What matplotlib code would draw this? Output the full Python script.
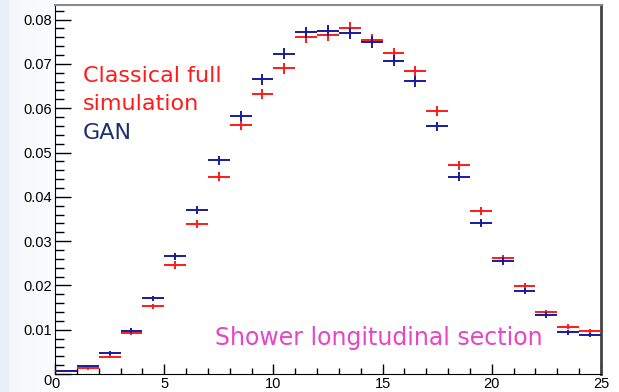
import numpy as np
import matplotlib
matplotlib.use("Agg")
import matplotlib.pyplot as plt
from matplotlib.ticker import MultipleLocator, FuncFormatter

# ---- data ----
bin_edges_lo = list(range(0, 25))
bin_centers = [b + 0.5 for b in bin_edges_lo]

classical = [0.0007, 0.0013, 0.0039, 0.0093, 0.0153, 0.0246, 0.0339, 0.0445,
             0.0562, 0.0632, 0.0690, 0.0761, 0.0765, 0.0782, 0.0755, 0.0725,
             0.0684, 0.0593, 0.0471, 0.0367, 0.0261, 0.0198, 0.0139, 0.0107,
             0.0096]
gan = [0.0006, 0.0018, 0.0048, 0.0098, 0.0171, 0.0266, 0.0370, 0.0482,
       0.0583, 0.0665, 0.0723, 0.0771, 0.0775, 0.0769, 0.0750, 0.0707,
       0.0661, 0.0559, 0.0445, 0.0341, 0.0255, 0.0187, 0.0133, 0.0094,
       0.0088]
errors = [0.0002, 0.0003, 0.0004, 0.0005, 0.0006, 0.0008, 0.0009, 0.0010,
          0.0011, 0.0012, 0.0012, 0.0013, 0.0013, 0.0013, 0.0013, 0.0012,
          0.0012, 0.0011, 0.0010, 0.0009, 0.0008, 0.0007, 0.0006, 0.0005,
          0.0005]

x_ticks = [0, 5, 10, 15, 20, 25]
y_ticks = [0.0, 0.01, 0.02, 0.03, 0.04, 0.05, 0.06, 0.07, 0.08]

fig = plt.figure(figsize=(6.19, 3.92), dpi=100)
fig.patch.set_facecolor("white")

# light slide background on the left
bg = fig.add_axes([0, 0, 1, 1], zorder=-10)
bg.axis("off")
xs = np.linspace(0, 1, 619)
grad = np.ones((1, 619, 3))
left = np.array([0.91, 0.94, 0.965])
mid = np.array([0.96, 0.972, 0.982])
for i, t in enumerate(xs):
    px = t * 619
    if px < 9:
        c = left
    elif px < 60:
        f = (px - 9) / 51
        c = mid * (1 - f) + np.array([0.985, 0.99, 0.995]) * f
    else:
        c = np.array([1.0, 1.0, 1.0])
    grad[0, i] = c
bg.imshow(grad, aspect="auto", extent=[0, 1, 0, 1])
bg.set_xlim(0, 1)
bg.set_ylim(0, 1)

ax = fig.add_axes([55 / 619, 18 / 392, 546 / 619, 369 / 392])
ax.set_facecolor("white")

ax.errorbar(bin_centers, classical, xerr=0.5, yerr=errors, fmt="none",
            ecolor="#ff1a1a", elinewidth=1.4, capsize=0, zorder=3)
ax.errorbar(bin_centers, gan, xerr=0.5, yerr=errors, fmt="none",
            ecolor="#1a1aa0", elinewidth=1.4, capsize=0, zorder=4)

ax.set_xlim(0, 25)
ax.set_ylim(0, 0.0833)
ax.set_xticks(x_ticks)
ax.xaxis.set_minor_locator(MultipleLocator(1))
ax.set_yticks(y_ticks)
ax.yaxis.set_minor_locator(MultipleLocator(0.002))
ax.yaxis.set_major_formatter(FuncFormatter(lambda v, p: "0" if abs(v) < 1e-9 else f"{v:.2f}"))

ax.tick_params(axis="x", which="major", direction="in", length=7.2, width=1,
               labelsize=10.5, pad=2.5)
ax.tick_params(axis="x", which="minor", direction="in", length=4, width=1)
ax.tick_params(axis="y", which="major", direction="in", length=11.5, width=1,
               labelsize=10.5, pad=2.5)
ax.tick_params(axis="y", which="minor", direction="in", length=6.3, width=1)
for lab in ax.get_xticklabels() + ax.get_yticklabels():
    lab.set_fontfamily("Liberation Sans")

ax.spines["left"].set_color("black")
ax.spines["bottom"].set_color("black")
ax.spines["top"].set_color("#8a8a8a")
ax.spines["top"].set_linewidth(1.5)
ax.spines["right"].set_color("#444444")
ax.spines["right"].set_linewidth(2)

ax.yaxis.get_major_ticks()[0].label1.set_verticalalignment("top")

fig.text(83 / 619, 1 - 82.5 / 392, "Classical full", color="#ff1a1a",
         fontsize=16, family="DejaVu Sans", va="baseline", ha="left")
fig.text(83 / 619, 1 - 110 / 392, "simulation", color="#ff1a1a",
         fontsize=16, family="DejaVu Sans", va="baseline", ha="left")
fig.text(83 / 619, 1 - 138.5 / 392, "GAN", color="#1c2f70",
         fontsize=16, family="DejaVu Sans", va="baseline", ha="left")
fig.text(215 / 619, 1 - 344.5 / 392, "Shower longitudinal section",
         color="#e645c8", fontsize=17, family="DejaVu Sans",
         va="baseline", ha="left")

fig.savefig("out.png", dpi=100)
